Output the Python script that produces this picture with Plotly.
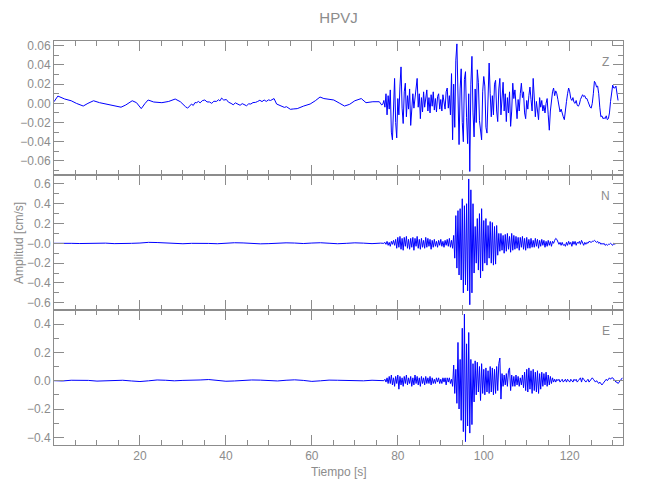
import numpy as np
import plotly.graph_objects as go

DT = 0.25  # sampling step (s) of the digitised strong-motion part

# ---------------- Z component (values in 1e-3 cm/s) ----------------
z_quiet_t = [0.0, 0.9, 2.5, 4.0, 5.2, 6.8, 7.9, 9.2, 10.6, 12.1, 13.6, 15.6, 16.7, 18.2, 19.2,
             20.3, 21.2, 21.9, 23.2, 25.1, 26.7, 28.2, 29.4, 30.1, 30.6, 31.1, 31.5, 32.0, 32.4,
             32.8, 33.2, 33.6, 34.0, 34.5, 35.1, 35.6, 36.2, 36.7, 37.2, 37.8, 38.3, 38.6, 39.0,
             39.5, 40.1, 40.6, 41.2, 41.7, 42.2, 42.8, 43.3, 43.8, 44.3, 44.8, 45.3, 45.8, 46.3,
             46.9, 47.4, 47.9, 48.4, 48.9, 49.4, 49.9, 50.4, 50.8, 51.2, 51.8, 52.4, 53.1, 53.6,
             54.1, 54.5, 55.0, 55.8, 56.6, 58.1, 59.6, 60.8, 61.9, 62.8, 64.0, 65.1, 66.5, 67.6,
             68.8, 70.0, 71.5, 72.6, 74.2, 75.7, 76.25]
z_quiet_v = [1.7, 7.6, 4.5, 2.7, 0.0, -2.8, 0.0, 2.7, 0.7, -0.7, -2.8, -4.0, -1.7, 2.7, 0.7,
             -5.5, 0.0, 3.5, 1.4, 0.7, 2.0, 4.5, 1.7, -1.7, -3.5, -5.0, -2.5, -0.7, -2.2,
             0.8, 0.7, 2.0, 0.5, 2.8, 3.5, 1.5, 1.4, 0.0, 2.2, 2.0, 3.8, 2.5, 5.5,
             3.4, 4.0, 1.2, 0.0, -1.5, 0.5, -0.7, -2.0, -0.3, -1.4, -2.5, -0.5, -0.7, 0.8,
             1.0, 2.0, 3.2, 1.8, 3.5, 2.0, 3.6, 3.0, 4.2, 5.0, -0.7, -1.8, -2.8, -4.2,
             -3.5, -5.0, -6.2, -5.8, -5.5, -2.8, -0.7, 2.7, 6.6, 5.0, 4.0, 3.5, 0.0, -2.8,
             -1.0, 2.7, 5.0, 0.7, 1.7, 1.7, -1.7]
z_active_t0 = 76.5
z_active_v = [-1, 3, -4, 10, -12, 8, -6, 14, -30, -38, 10, 26, -20, -36, 5, -12,
              18, 38, -5, -21, 12, 21, -14, 8, -6, 15, -23, -10, 10, -5, 8, 15,
              26, -4, 10, -16, 6, -9, 12, -4, 8, 14, -8, 6, -10, 9, -3, 12,
              -7, 5, -9, 7, 10, -6, 4, -8, 9, 2, -6, 12, 16, -5, 8, -12,
              31, -38, 20, -25, 45, 62, -10, -43, 15, 36, -20, -40, 25, 33, -15, -42,
              10, -71, 20, 49, -10, -35, 15, -20, 35, 22, -18, -30, -38, 12, 28, 18,
              -25, -31, 5, 42, 10, -14, 8, -12, 20, 24, -8, -19, 15, 26, -12, 5,
              22, -8, 10, -19, 6, -10, 12, -24, -8, 21, 5, 14, -6, -16, 4, -8,
              10, 21, 6, 12, -10, -16, 3, -6, 8, 17, 4, -8, 26, 10, -14, 2,
              -10, -17, 6, -4, 3, -8, -2, -10, 0, 5, -12, -28, -8, 6, 12, 16,
              8, 13, 10, 4, -3, -9, -6, -12, -14, -17, -10, 2, 10, 16, 12, 5,
              3, 6, 1, 0, 3, -2, -3, -1, 4, 6, 9, 7, 8, 5, 5, 2,
              -2, -4, -5, 0, 10, 23, 21, 17, 18, 10, -4, -14, -13, -16, -15, -16,
              -13, -17, -16, -10, 2, 14, 19, 16, 16, 18, 10, 3]

# ---------------- N component (values in 1e-2 cm/s) ----------------
n_quiet_t = list(range(0, 77, 2))
n_quiet_v = [0, 0.3, 0, -0.2, 0.1, 0.5, 0.2, -0.3, -0.5, 0, 0.3, 1.0, 0.8, 0.2, -0.2, -0.4,
             0.0, 0.3, -0.1, -0.4, 0.2, 0.6, 0.4, -0.2, -0.5, -0.3, 0.2, 0.5, 0.3, -0.2,
             0.3, 0.6, 0.1, -0.4, 0.0, 0.5, 0.2, -0.3, 0.2]
n_active_t0 = 76.75
n_active_v = [0, 1, -1, 2, -2, 1, -3, 2, -1, 3, -2, 4, -5, 6, -4, 7,
              -6, 5, -7, 6, -3, 7, -5, 4, -6, 5, -4, 6, -7, 5, -3, 7,
              -5, 4, -6, 5, -4, 3, -5, 6, -4, 5, -3, 4, -6, 3, -4, 4,
              -3, 2, -4, 3, -2, 4, -3, 2, -4, 3, -2, 4, -3, 5, -4, 3,
              -5, 8, -15, 28, -25, 33, -32, 35, -37, 45, -50, 38, -42, 40, -48, 65,
              -62, 54, -50, 40, -30, 17, -20, 25, -27, 30, -35, 35, -28, 23, -20, 25,
              -22, 18, -15, 22, -20, 21, -22, 17, -21, 18, -12, 10, -8, 10, -7, 8,
              -10, 9, -8, 10, -6, 7, -9, 10, -7, 8, -6, 7, -5, 6, -7, 6,
              -4, 7, -6, 5, -7, 6, -5, 4, -5, 5, -4, 3, -4, 5, -3, 4,
              -5, 3, -3, 4, -2, 3, -4, 2, -3, 3, -2, 2, -3, 2, 0, 3,
              5, 4, 2, -1, 1, -2, 1, -2, -1, -3, 1, -2, 2, -1, 1, -3,
              2, -1, 2, -2, 1, 0, 2, -1, 3, 0, -2, 1, -1, 1, 0, 2,
              1, 1, 2, 2, 3, 2, 1, 2, 0, 1, -1, 0, -1, 0, -2, -1,
              -2, -1, -1, 0, -1, -2, 0, -1, 0]

# ---------------- E component (values in 1e-2 cm/s) ----------------
e_quiet_t = list(range(0, 77, 2))
e_quiet_v = [0, -0.2, 0.3, 0.5, 0.2, -0.3, 0.0, 0.4, 0.3, -0.2, -0.6, -0.1, 0.5, 0.3, -0.1,
             0.2, 0.6, 0.5, 0.8, 0.2, -0.4, -0.2, 0.3, 0.5, 0.4, 0.1, -0.2, 0.3, 0.6, 0.2,
             -0.5, -0.1, 0.4, 0.3, 0.0, 0.2, -0.1, 0.3, 0.1]
e_active_t0 = 76.75
e_active_v = [0, 1, -1, 2, -2, 3, -2, 4, -3, 2, -4, 3, -2, 4, -6, 3,
              -3, 2, -4, 3, -2, 4, -3, 2, -2, 3, -4, 2, -3, 4, -2, 3,
              -3, 2, -4, 3, -2, 2, -3, 3, -2, 2, -2, 3, -3, 2, -2, 1,
              -2, 2, -1, 2, -2, 1, -2, 2, -1, 2, -3, 2, -1, 2, -2, 1,
              -4, 11, -9, 8, -16, 27, -20, 15, -28, 37, -36, 47, -43, 26, -32, 34,
              -37, 15, -31, 12, -15, 14, -10, 13, -8, 10, -14, 12, -9, 8, -10, 9,
              -8, 7, -9, 10, -8, 9, -10, 8, -9, 10, -7, 12, 16, -13, 5, -4,
              4, -3, 5, -4, 7, 9, -7, 4, -4, 3, -4, 4, -3, 3, -4, 2,
              -3, 4, -5, 6, -7, 8, -8, 9, -6, 7, -9, 8, -7, 6, -8, 7,
              -9, 5, -6, 6, -4, 5, -3, 6, -4, 4, -3, 3, -2, 2, -1, 1,
              -1, 1, 0, 1, -1, 0, 1, -1, 0, 1, -1, 1, 0, -1, 1, 0,
              -1, 1, 0, 1, -1, 0, 1, 2, -1, 2, 1, 0, -1, 0, 1, -1,
              0, 1, 2, 1, 0, -1, 0, -1, -2, -1, -2, -3, -2, -1, 0, 1,
              0, 1, 2, 1, 2, 2, 1, 0, -1, -1, -2, -1, 0, 1, 2]

station = "HPVJ"
comp_labels = ["Z", "N", "E"]
x_tickvals = [20, 40, 60, 80, 100, 120]


def series(qt, qv, t0, av, unit):
    t = list(qt) + [t0 + DT * i for i in range(len(av))]
    v = np.array(list(qv) + list(av), dtype=float) * unit
    return t, v


zt, zv = series(z_quiet_t, z_quiet_v, z_active_t0, z_active_v, 1e-3)
nt, nv = series(n_quiet_t, n_quiet_v, n_active_t0, n_active_v, 1e-2)
et, ev = series(e_quiet_t, e_quiet_v, e_active_t0, e_active_v, 1e-2)

GRAY = "#8c8c8c"
FONT = "Liberation Sans"
LINE = dict(color="#0000ff", width=1)

fig = go.Figure()
fig.add_trace(go.Scatter(x=zt, y=zv, mode="lines", line=LINE, xaxis="x", yaxis="y"))
fig.add_trace(go.Scatter(x=nt, y=nv, mode="lines", line=LINE, xaxis="x2", yaxis="y2"))
fig.add_trace(go.Scatter(x=et, y=ev, mode="lines", line=LINE, xaxis="x3", yaxis="y3"))


def xax(anchor, labels):
    return dict(anchor=anchor, range=[0, 132.4], showgrid=False, zeroline=False,
                showline=True, linecolor=GRAY, linewidth=1, mirror="allticks",
                ticks="inside", ticklen=10, tickcolor=GRAY, tickvals=x_tickvals,
                showticklabels=labels, tickfont=dict(family=FONT, size=12, color=GRAY),
                minor=dict(tickmode="linear", tick0=0, dtick=5, ticks="inside",
                           ticklen=5, tickcolor=GRAY))


def yax(anchor, domain, rng, vals, texts, mdt):
    return dict(anchor=anchor, domain=domain, range=rng, showgrid=False, zeroline=False,
                showline=True, linecolor=GRAY, linewidth=1, mirror="allticks",
                ticks="inside", ticklen=10, tickcolor=GRAY, tickvals=vals, ticktext=texts,
                tickfont=dict(family=FONT, size=12, color=GRAY),
                minor=dict(tickmode="linear", tick0=0, dtick=mdt, ticks="inside",
                           ticklen=5, tickcolor=GRAY))


z_ticks = [-0.06, -0.04, -0.02, 0.0, 0.02, 0.04, 0.06]
z_text = ["\u22120.06", "\u22120.04", "\u22120.02", "0.00", "0.02", "0.04", "0.06"]
n_ticks = [-0.6, -0.4, -0.2, 0.0, 0.2, 0.4, 0.6]
n_text = ["\u22120.6", "\u22120.4", "\u22120.2", "\u22120.0", "0.2", "0.4", "0.6"]
e_ticks = [-0.4, -0.2, 0.0, 0.2, 0.4]
e_text = ["\u22120.4", "\u22120.2", "0.0", "0.2", "0.4"]

# the page body adds an 8 px offset, so the figure is 8 px smaller and margins shifted
W, H = 642, 492
fig.update_layout(
    width=W, height=H,
    margin=dict(l=39.5, r=26.5, t=33, b=55, pad=0),
    plot_bgcolor="white", paper_bgcolor="white", showlegend=False,
    xaxis=xax("y", False), xaxis2=xax("y2", False), xaxis3=xax("y3", True),
    yaxis=yax("x", [0.6683, 1.0], [-0.0747, 0.065], z_ticks, z_text, 0.01),
    yaxis2=yax("x2", [0.3342, 0.6683], [-0.673, 0.69], n_ticks, n_text, 0.1),
    yaxis3=yax("x3", [0.0, 0.3342], [-0.454, 0.499], e_ticks, e_text, 0.1),
    title=dict(text=station, x=0.5, xref="paper", y=1 - 10 / H, yref="container",
               yanchor="middle", font=dict(family=FONT, size=15, color=GRAY)),
)

ann = [
    dict(text="Tiempo [s]", x=0.5, y=-0.0668),
    dict(text="Amplitud [cm/s]", x=-0.0616, y=0.5, textangle=-90),
]
for lab, yy in zip(comp_labels, [0.948, 0.616, 0.282]):
    ann.append(dict(text=lab, x=0.9696, y=yy))
for a in ann:
    a.update(xref="paper", yref="paper", showarrow=False, xanchor="center", yanchor="middle",
             font=dict(family=FONT, size=12, color=GRAY))
fig.update_layout(annotations=ann)

fig.write_html("out.html")
